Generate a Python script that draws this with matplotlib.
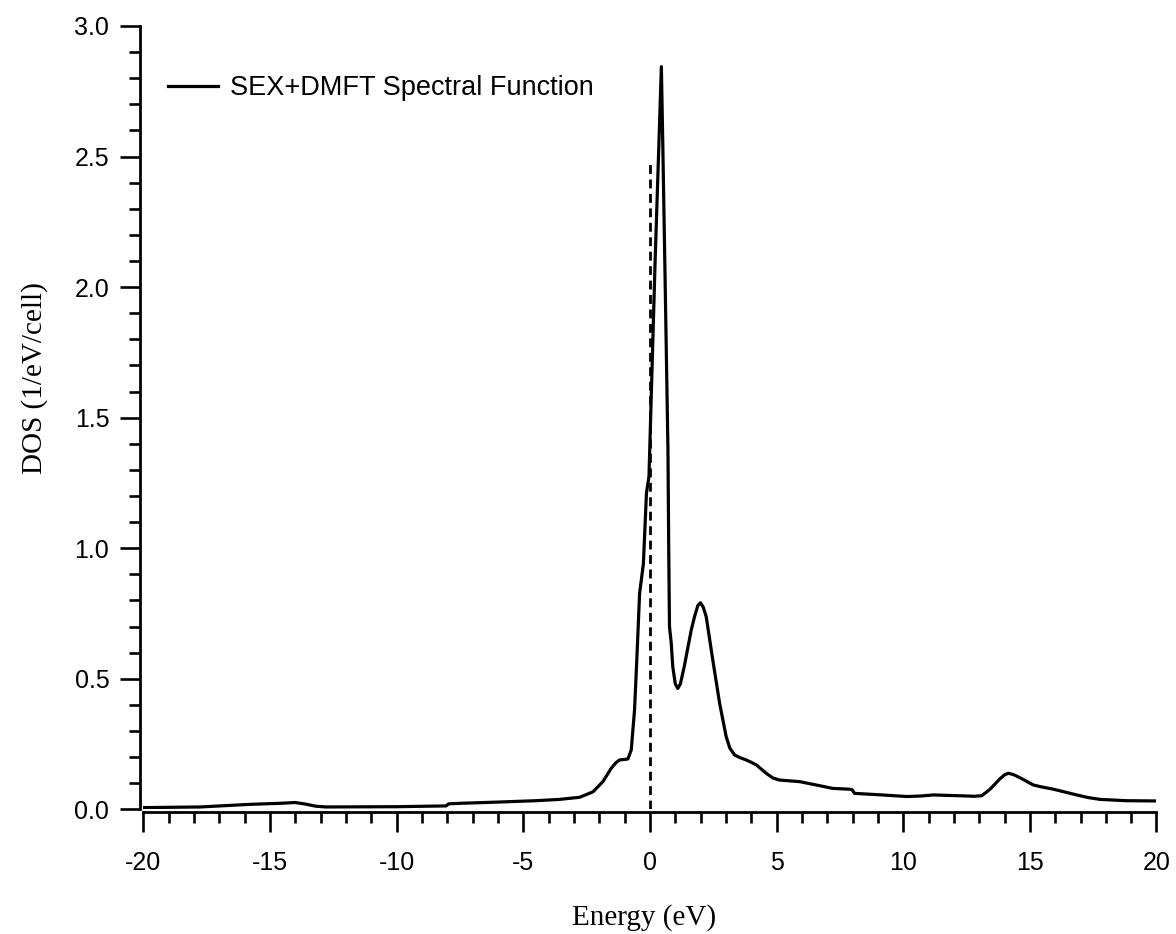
import matplotlib
matplotlib.use("Agg")
import matplotlib.pyplot as plt
from matplotlib.ticker import MultipleLocator, FormatStrFormatter

plt.rcParams["axes.unicode_minus"] = False

# spectral function (eV, states/eV/cell)
energy = [-19.96, -17.76, -15.79, -14.6, -14.01, -13.6, -13.2, -12.8, -10.0, -8.05,
          -7.95, -7.5, -5.92, -4.5, -3.57, -2.78, -2.25, -1.86, -1.53, -1.35,
          -1.2, -1.0, -0.87, -0.74, -0.61, -0.52, -0.41, -0.26, -0.14, -0.04,
          0.2, 0.45, 0.51, 0.60, 0.71, 0.74, 0.77, 0.84, 0.90, 1.0,
          1.10, 1.2, 1.36, 1.63, 1.76, 1.89, 1.99, 2.1, 2.22, 2.48,
          2.75, 3.01, 3.15, 3.34, 3.55, 3.80, 4.0, 4.20, 4.59, 4.85,
          5.12, 5.91, 6.57, 7.22, 7.88, 7.98, 8.08, 9.0, 10.14, 10.7,
          11.19, 12.2, 12.8, 13.1, 13.43, 13.8, 14.0, 14.15, 14.35, 14.61,
          15.14, 15.5, 15.93, 16.85, 17.3, 17.77, 18.8, 20.0]
dos = [0.0065, 0.009, 0.019, 0.023, 0.026, 0.02, 0.012, 0.009, 0.010, 0.013,
       0.021, 0.023, 0.028, 0.033, 0.038, 0.046, 0.067, 0.106, 0.157, 0.178,
       0.189, 0.191, 0.193, 0.227, 0.38, 0.572, 0.827, 0.94, 1.21, 1.274,
       2.09, 2.844, 2.525, 2.015, 1.376, 1.0, 0.70, 0.636, 0.546, 0.48,
       0.463, 0.48, 0.55, 0.687, 0.738, 0.78, 0.791, 0.775, 0.738, 0.572,
       0.406, 0.278, 0.235, 0.208, 0.198, 0.189, 0.18, 0.17, 0.138, 0.12,
       0.112, 0.106, 0.093, 0.080, 0.077, 0.075, 0.061, 0.056, 0.049, 0.051,
       0.055, 0.052, 0.050, 0.052, 0.077, 0.115, 0.132, 0.138, 0.133, 0.121,
       0.093, 0.085, 0.077, 0.055, 0.045, 0.038, 0.033, 0.032]

fermi_x = [0.0, 0.0]
fermi_y = [0.0, 2.48]

fig = plt.figure(figsize=(11.76, 9.34), dpi=100)
ax = fig.add_axes([0.122, 0.1335, 0.8614, 0.8387])

ax.plot(energy, dos, color="black", lw=2.3, solid_joinstyle="round",
        label="SEX+DMFT Spectral Function")
ax.plot(fermi_x, fermi_y, color="black", lw=2.0, ls=(0, (3.2, 2)))

ax.set_xlim(-20, 20)
ax.set_ylim(0, 3.0)

for s in ["top", "right"]:
    ax.spines[s].set_visible(False)
for s in ["left", "bottom"]:
    ax.spines[s].set_position(("outward", 2.2))
    ax.spines[s].set_linewidth(2.0)

ax.xaxis.set_major_locator(MultipleLocator(5))
ax.xaxis.set_minor_locator(MultipleLocator(1))
ax.yaxis.set_major_locator(MultipleLocator(0.5))
ax.yaxis.set_minor_locator(MultipleLocator(0.1))
ax.yaxis.set_major_formatter(FormatStrFormatter("%.1f"))
ax.tick_params(which="major", direction="out", length=14.4, width=1.9, labelsize=18)
ax.tick_params(which="minor", direction="out", length=8, width=1.9)
ax.tick_params(axis="x", which="major", pad=13.7)
ax.tick_params(axis="y", which="major", pad=8)
for lab in ax.get_xticklabels() + ax.get_yticklabels():
    lab.set_family("Liberation Sans")

ax.set_xlabel("Energy (eV)", family="Liberation Serif", fontsize=21)
ax.set_ylabel("DOS (1/eV/cell)", family="Liberation Serif", fontsize=21)
ax.xaxis.set_label_coords(0.494, -0.1209)
ax.yaxis.set_label_coords(-0.094, 0.5506)

ax.legend(loc="center left", bbox_to_anchor=(0.0242, 0.9208), frameon=False,
          prop={"family": "Liberation Sans", "size": 19.5},
          handlelength=1.85, handletextpad=0.44, borderpad=0, borderaxespad=0)

fig.savefig("out.png", dpi=100)
